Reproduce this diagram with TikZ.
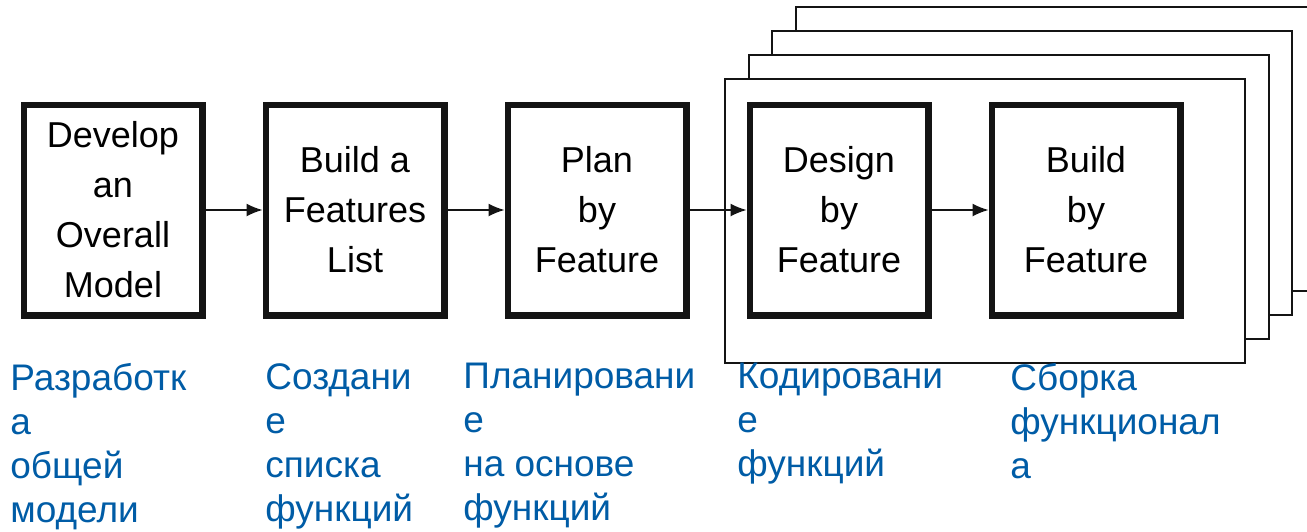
\documentclass[tikz,border=0pt]{standalone}
\usepackage{fontspec}
\setmainfont{Liberation Sans}
\usepackage{tikz}
\usetikzlibrary{positioning}
\usetikzlibrary{arrows.meta}
\definecolor{FDDBlue}{RGB}{0,92,166}
\definecolor{FDDInk}{RGB}{20,20,20}

\begin{document}
\begin{tikzpicture}[x=0.5pt,y=-0.5pt,
		stepbox/.style={draw=FDDInk,fill=white,line width=3.2pt,minimum width=89.3pt,minimum height=105.3pt,inner sep=0pt,align=center,font=\fontsize{18}{25}\selectfont},
		page/.style={draw=FDDInk,fill=white,line width=1pt},
		flow/.style={-{Latex[length=8pt,width=6.5pt]},draw=FDDInk,line width=0.7pt},
		ruslabel/.style={anchor=north west,inner sep=0pt,align=left,text=FDDBlue,font=\fontsize{18.5}{22}\selectfont},
		node distance=28.5pt]
			\useasboundingbox (0,0) rectangle (1307,531);
			\clip (0,0) rectangle (1307,531);
			% stack of pages behind the last two steps
			\draw[page] (795.5,7) rectangle (1315.5,291);
			\draw[page] (772,31) rectangle (1292,315);
			\draw[page] (748.5,55) rectangle (1268.5,339);
			\draw[page] (725,79) rectangle (1245,363);

			% the five steps
			\node[stepbox] (develop) at (113,210) {Develop\\an\\Overall\\Model};
			\node[stepbox,right=of develop] (features) {Build a\\Features\\List};
			\node[stepbox,right=of features] (plan) {Plan\\by\\Feature};
			\node[stepbox,right=of plan] (design) {Design\\by\\Feature};
			\node[stepbox,minimum width=94.3pt,right=of design] (build) {Build\\by\\Feature};

			\draw[flow] (develop) to (features);
			\draw[flow] (features) to (plan);
			\draw[flow] (plan) to (design);
			\draw[flow] (design) to (build);

			% russian captions
			\node[ruslabel] (capdevelop) at (10,363) {Разработк\\а\\общей\\модели};
			\node[ruslabel] (capfeatures) at (265,363) {Создани\\е\\списка\\функций};
			\node[ruslabel] (capplan) at (463,363) {Планировани\\е\\на основе\\функций};
			\node[ruslabel] (capdesign) at (737,363) {Кодировани\\е\\функций};
			\node[ruslabel] (capbuild) at (1010,363) {Сборка\\функционал\\а};
\end{tikzpicture}
\end{document}
